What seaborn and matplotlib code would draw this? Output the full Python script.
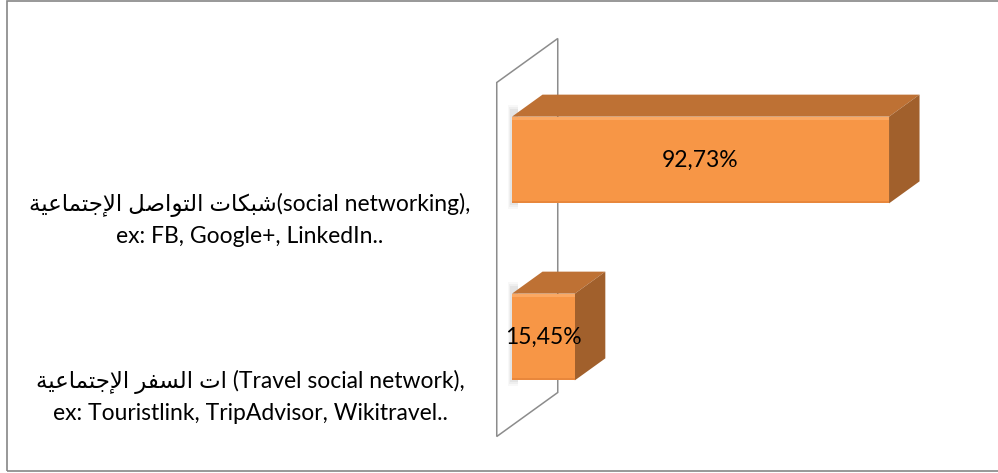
import matplotlib
matplotlib.use("Agg")
import matplotlib.pyplot as plt
import numpy as np
import pandas as pd
import seaborn as sns
from matplotlib.patches import Polygon, Rectangle
from matplotlib.transforms import IdentityTransform, offset_copy

# ---- data -------------------------------------------------------------
categories_ar = ["شبكات التواصل الإجتماعية", "ات السفر الإجتماعية"]
categories_en = ["(social networking),", " (Travel social network),"]
categories_ex = ["ex: FB, Google+, LinkedIn..",
                 "ex: Touristlink, TripAdvisor, Wikitravel.."]
shares = [92.73, 15.45]
value_labels = ["92,73%", "15,45%"]

# ---- minimal Arabic shaping (matplotlib has no complex text layout) ----
FORMS = {  # isolated, final, initial, medial
    "\u0627": ("\uFE8D", "\uFE8E", None, None),
    "\u0625": ("\uFE87", "\uFE88", None, None),
    "\u0628": ("\uFE8F", "\uFE90", "\uFE91", "\uFE92"),
    "\u0629": ("\uFE93", "\uFE94", None, None),
    "\u062A": ("\uFE95", "\uFE96", "\uFE97", "\uFE98"),
    "\u062C": ("\uFE9D", "\uFE9E", "\uFE9F", "\uFEA0"),
    "\u0631": ("\uFEAD", "\uFEAE", None, None),
    "\u0633": ("\uFEB1", "\uFEB2", "\uFEB3", "\uFEB4"),
    "\u0634": ("\uFEB5", "\uFEB6", "\uFEB7", "\uFEB8"),
    "\u0635": ("\uFEB9", "\uFEBA", "\uFEBB", "\uFEBC"),
    "\u0639": ("\uFEC9", "\uFECA", "\uFECB", "\uFECC"),
    "\u0641": ("\uFED1", "\uFED2", "\uFED3", "\uFED4"),
    "\u0643": ("\uFED9", "\uFEDA", "\uFEDB", "\uFEDC"),
    "\u0644": ("\uFEDD", "\uFEDE", "\uFEDF", "\uFEE0"),
    "\u0645": ("\uFEE1", "\uFEE2", "\uFEE3", "\uFEE4"),
    "\u0648": ("\uFEED", "\uFEEE", None, None),
    "\u064A": ("\uFEF1", "\uFEF2", "\uFEF3", "\uFEF4"),
    # lam-alef ligatures (stored under private keys)
    "LA": ("\uFEFB", "\uFEFC", None, None),
    "LI": ("\uFEF9", "\uFEFA", None, None),
}


def shape_arabic(text):
    """Return the visual (left-to-right) form of an Arabic phrase."""
    units = []
    i = 0
    while i < len(text):
        ch = text[i]
        if ch == "\u0644" and i + 1 < len(text) and text[i + 1] in ("\u0627", "\u0625"):
            units.append("LA" if text[i + 1] == "\u0627" else "LI")
            i += 2
        else:
            units.append(ch)
            i += 1
    out = []
    for k, u in enumerate(units):
        if u not in FORMS:
            out.append(u)
            continue
        prev = units[k - 1] if k > 0 else None
        nxt = units[k + 1] if k + 1 < len(units) else None
        join_prev = prev in FORMS and FORMS[prev][2] is not None
        join_next = nxt in FORMS and FORMS[u][2] is not None
        iso, fin, ini, med = FORMS[u]
        if join_prev and join_next:
            out.append(med)
        elif join_prev:
            out.append(fin)
        elif join_next:
            out.append(ini)
        else:
            out.append(iso)
    return "".join(reversed(out))


labels = [shape_arabic(a) + e + "\n" + x
          for a, e, x in zip(categories_ar, categories_en, categories_ex)]

# ---- figure -----------------------------------------------------------
W, H = 998, 473
sns.set_theme(style="white")
plt.rcParams["font.family"] = ["Lato", "DejaVu Sans"]

fig = plt.figure(figsize=(W / 100, H / 100), dpi=100)
fig.patch.set_facecolor("white")
ax = fig.add_axes([512 / W, (H - 425.5) / H, 406.6 / W, 354 / H])

df = pd.DataFrame({"category": labels, "share": shares})
sns.barplot(data=df, y="category", x="share", orient="h", color="#F79646",
            saturation=1, width=0.49, edgecolor="none", ax=ax, zorder=4)
ax.set_xlim(0, 100)
ax.set_ylim(1.5, -0.5)
ax.axis("off")

TOP = "#BE7134"
SIDE = "#A1602C"
DEPTH = np.array([61.0, 44.0])  # receding direction in pixels (x right, y up)

to_px = ax.transData.transform

# back wall (a thin vertical plane at the value axis)
(ax0, ay0), (_, ay1) = to_px([(0, 1.5), (0, -0.5)])
f0 = np.array([ax0, ay0]) - 0.25 * DEPTH
f1 = np.array([ax0, ay1]) - 0.25 * DEPTH
b0 = np.array([ax0, ay0]) + 0.75 * DEPTH
b1 = np.array([ax0, ay1]) + 0.75 * DEPTH
wall = Polygon([f0, f1, b1, b0], closed=True, transform=IdentityTransform(),
               facecolor="white", edgecolor="#8C8C8C", linewidth=1.1,
               zorder=1, clip_on=False)
ax.add_artist(wall)

# receding faces for each bar, built from the bar rectangles
d = 0.5 * DEPTH
for patch in list(ax.patches):
    if not isinstance(patch, Rectangle) or patch.get_width() <= 0:
        continue
    x, y = patch.get_x(), patch.get_y()
    w, h = patch.get_width(), patch.get_height()
    (px0, py_top), (px1, py_bot) = to_px([(x, y), (x + w, y + h)])
    # soft shadow cast on the wall
    for k, a in enumerate([0.05, 0.07, 0.09]):
        sh = Rectangle((px0 - 4 + k, py_bot - 6 + 2 * k), 10 - k,
                       (py_top - py_bot) + 18 - 4 * k,
                       transform=IdentityTransform(), facecolor="#808080",
                       alpha=a, edgecolor="none", zorder=2, clip_on=False)
        ax.add_artist(sh)
    top = Polygon([(px0, py_top), (px1, py_top), (px1 + d[0], py_top + d[1]),
                   (px0 + d[0], py_top + d[1])], closed=True,
                  transform=IdentityTransform(), facecolor=TOP,
                  edgecolor="none", zorder=3, clip_on=False)
    side = Polygon([(px1, py_top), (px1, py_bot), (px1 + d[0], py_bot + d[1]),
                    (px1 + d[0], py_top + d[1])], closed=True,
                   transform=IdentityTransform(), facecolor=SIDE,
                   edgecolor="none", zorder=3, clip_on=False)
    ax.add_artist(top)
    ax.add_artist(side)
    # bevel highlight along the top edge of the front face
    ax.add_artist(Rectangle((px0, py_top - 3), px1 - px0, 3,
                            transform=IdentityTransform(), facecolor="#FBA862",
                            edgecolor="none", zorder=5, clip_on=False))
    ax.add_artist(Rectangle((px0, py_bot), px1 - px0, 2,
                            transform=IdentityTransform(), facecolor="#E8873C",
                            edgecolor="none", zorder=5, clip_on=False))

# value labels centred on the front faces
for i, (v, txt) in enumerate(zip(shares, value_labels)):
    ax.text(v / 2, i, txt, ha="center", va="center", fontsize=16.5,
            color="black", zorder=6, clip_on=False)

# category labels to the left of the wall
for i, lab in enumerate(labels):
    tr = offset_copy(ax.transData, fig=fig, x=-262, y=-60, units="dots")
    ax.text(0, i, lab, transform=tr, ha="center", va="center",
            multialignment="center", fontsize=16.5, color="black",
            linespacing=1.5, clip_on=False)

# chart frame
fig.add_artist(Rectangle((7, 2), 1000, 470, transform=IdentityTransform(),
                         facecolor="none", edgecolor="#868686", linewidth=1.2))

fig.savefig("out.png", dpi=100)
